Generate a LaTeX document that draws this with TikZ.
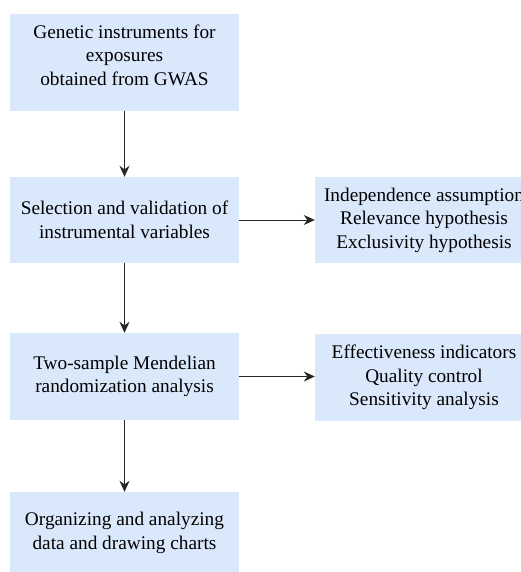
\documentclass[tikz,border=0pt]{standalone}
\usepackage{fontspec}
\IfFontExistsTF{LiberationSerif-Regular.ttf}
  {\newfontfamily\serifbox{LiberationSerif-Regular.ttf}}
  {\IfFontExistsTF{texgyretermes-regular.otf}
    {\newfontfamily\serifbox{texgyretermes-regular.otf}}
    {\newfontfamily\serifbox{Liberation Serif}}}
\usetikzlibrary{arrows.meta}
\definecolor{boxblue}{HTML}{DAE8FC}
\begin{document}
\begin{tikzpicture}[x=1pt,y=-1pt,
  box/.style={fill=boxblue, draw=none, inner sep=0pt, align=center,
    font=\serifbox\fontsize{19.3}{23.5}\selectfont},
  boxtext/.style={inner sep=0pt, align=center, font=\serifbox\fontsize{19.3}{23.5}\selectfont},
  arr/.style={draw=black!85, line width=1pt, -{Stealth[length=11pt,width=10pt]}}]
\useasboundingbox (0,0) rectangle (521,572);
\clip (0,0) rectangle (521,572);
\node[box, minimum width=229pt, minimum height=97pt] (b1) at (124.5,62.75) {};
\node[boxtext] (t1) at (124.5,55) {Genetic instruments for\\exposures\\obtained from GWAS};
\node[box, minimum width=229pt, minimum height=86pt] (b2) at (124.5,220) {Selection and validation of\\instrumental variables};
\node[box, minimum width=229pt, minimum height=87pt] (b3) at (124.5,376.5) {Two-sample Mendelian\\randomization analysis};
\node[box, minimum width=229pt, minimum height=82pt] (b4) at (124.5,533) {Organizing and analyzing\\data and drawing charts};
\node[box, minimum width=218pt, minimum height=86pt] (r1) at (424,220) {Independence assumption\\Relevance hypothesis\\Exclusivity hypothesis};
\node[box, minimum width=218pt, minimum height=87pt] (r2) at (424,377.5) {Effectiveness indicators\\Quality control\\Sensitivity analysis};
\draw[arr] (b1) -- (b2);
\draw[arr] (b2) -- (b3);
\draw[arr] (b3) -- (b4);
\draw[arr] (b2) -- (r1);
\draw[arr] (b3.east) -- (b3.east -| r2.west);
\end{tikzpicture}
\end{document}
